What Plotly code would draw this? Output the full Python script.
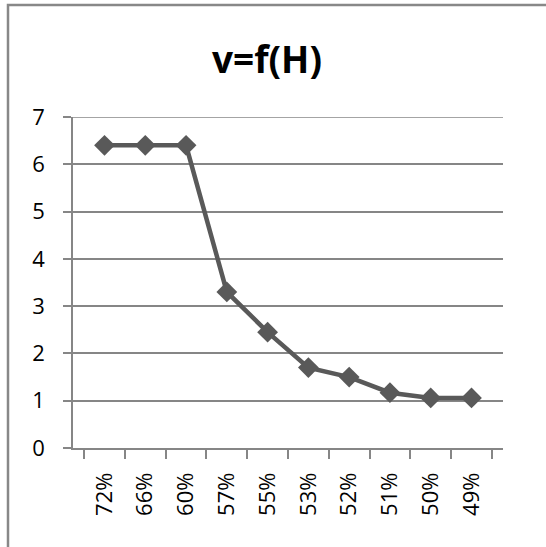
import plotly.graph_objects as go

categories = ["72%", "66%", "60%", "57%", "55%", "53%", "52%", "51%", "50%", "49%"]
values = [6.4, 6.4, 6.4, 3.3, 2.45, 1.7, 1.5, 1.17, 1.06, 1.06]
y_ticks = [0, 1, 2, 3, 4, 5, 6, 7]

W, H = 546, 547
L, R, T, B = 73, 43, 117, 99
pw, ph = W - L - R, H - T - B

FONT = "Open Sans"
GRAY = "#868686"

fig = go.Figure()
fig.add_trace(go.Scatter(
    x=categories, y=values, mode="lines+markers",
    line=dict(color="#595959", width=4.5),
    marker=dict(symbol="diamond", size=16, color="#595959"),
    showlegend=False, cliponaxis=False,
))

def px_x(v):
    return (v - L) / pw

def px_y(v):
    return 1 - (v - T) / ph

fig.add_shape(type="rect", xref="paper", yref="paper",
              x0=px_x(8), x1=px_x(560), y0=px_y(5), y1=px_y(560),
              line=dict(color="#888888", width=2.5), layer="below")
# top gridline (at the max tick) which plotly omits at the plot edge
fig.add_shape(type="line", xref="paper", yref="y",
              x0=0, x1=1, y0=y_ticks[-1], y1=y_ticks[-1],
              line=dict(color=GRAY, width=1.5), layer="below")

fig.update_layout(
    width=W, height=H,
    margin=dict(l=L, r=R, t=T, b=B),
    paper_bgcolor="white", plot_bgcolor="white",
    font=dict(family=FONT, size=22, color="black"),
    title=dict(text="<b>v=f(H)</b>", x=267 / W, xanchor="center",
               y=1 - 60 / H, yanchor="middle", xref="container", yref="container",
               font=dict(family=FONT, size=37, color="black")),
)
fig.update_xaxes(
    type="category", categoryorder="array", categoryarray=categories,
    tickson="boundaries", ticks="outside", ticklen=9, tickcolor=GRAY, tickwidth=1.5,
    showline=True, linecolor=GRAY, linewidth=1.5,
    showgrid=False, tickangle=-90, ticklabelstandoff=14,
    tickfont=dict(family=FONT, size=22, color="black"),
)
fig.update_yaxes(
    range=[0, 7], tickvals=y_ticks, ticktext=[str(v) for v in y_ticks],
    ticks="outside", ticklen=8, tickcolor=GRAY, tickwidth=1.5,
    showline=True, linecolor=GRAY, linewidth=1.5,
    showgrid=True, gridcolor=GRAY, gridwidth=1.5,
    zeroline=False, ticklabelstandoff=14,
    tickfont=dict(family=FONT, size=22, color="black"),
)

fig.write_html("out.html")
